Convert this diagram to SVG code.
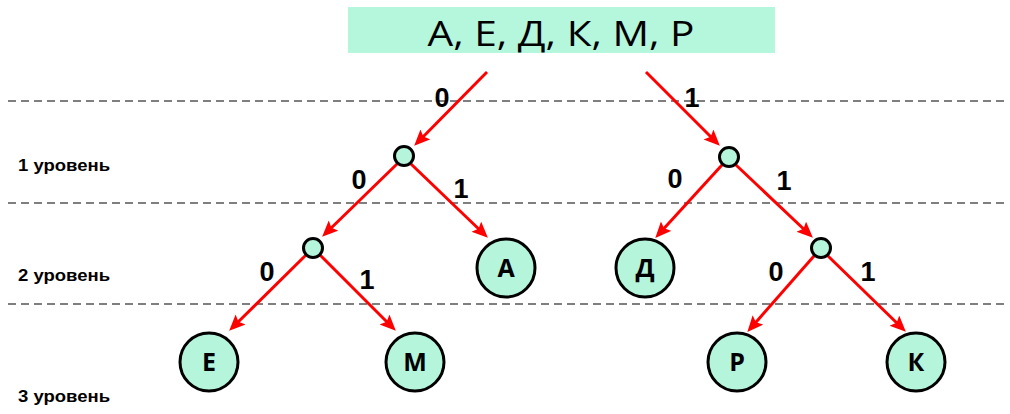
<svg xmlns="http://www.w3.org/2000/svg" width="1010" height="414" viewBox="0 0 1010 414">
<defs>
<style>
.dash{stroke:#555;stroke-width:1.6;stroke-dasharray:8,5;fill:none}
.lvl{font-family:"Liberation Sans",Arial,sans-serif;font-weight:bold;font-size:17px;fill:#000}
.edge{stroke:#ff0000;stroke-width:3;fill:none;marker-end:url(#arr)}
.small{fill:#b5f5dc;stroke:#000;stroke-width:3}
.leaf{fill:#b5f5dc;stroke:#000;stroke-width:3}
.nl{font-family:"Open Sans","Liberation Sans",sans-serif;font-weight:bold;font-size:25px;fill:#000;text-anchor:middle}
.el{font-family:"Liberation Sans",Arial,sans-serif;font-weight:bold;font-size:27px;fill:#000;text-anchor:middle}
</style>
<marker id="arr" markerUnits="userSpaceOnUse" markerWidth="18" markerHeight="16" refX="12" refY="7" orient="auto" viewBox="0 0 18 16">
<path d="M0,0 L16,7 L0,14 L3,7 z" fill="#ff0000"/>
</marker>
</defs>
<rect width="1010" height="414" fill="#fff"/>
<g id="guides">
<line class="dash" x1="8" y1="101" x2="1008" y2="101"/>
<line class="dash" x1="8" y1="203" x2="1008" y2="203"/>
<line class="dash" x1="8" y1="304" x2="1008" y2="304"/>
<text class="lvl" x="18" y="171" textLength="92" lengthAdjust="spacingAndGlyphs">1 уровень</text>
<text class="lvl" x="18" y="281" textLength="92" lengthAdjust="spacingAndGlyphs">2 уровень</text>
<text class="lvl" x="18" y="402" textLength="92" lengthAdjust="spacingAndGlyphs">3 уровень</text>
</g>
<g id="root">
<rect x="348" y="7" width="427" height="46" fill="#b4f7dc"/>
<text x="561" y="46" font-family="'Open Sans','Liberation Sans',sans-serif" font-size="34" text-anchor="middle" textLength="267" lengthAdjust="spacingAndGlyphs" fill="#000">А, Е, Д, К, М, Р</text>
</g>
<g id="connectors">
<line class="edge" x1="487" y1="72" x2="417" y2="143"/>
<line class="edge" x1="646" y1="72" x2="717" y2="143"/>
<line class="edge" x1="397" y1="164" x2="325" y2="234"/>
<line class="edge" x1="411" y1="164" x2="485" y2="235"/>
<line class="edge" x1="722" y1="165" x2="658" y2="235"/>
<line class="edge" x1="736" y1="165" x2="810" y2="235"/>
<line class="edge" x1="306" y1="255" x2="232" y2="328"/>
<line class="edge" x1="320" y1="255" x2="393" y2="328"/>
<line class="edge" x1="814" y1="256" x2="750" y2="329"/>
<line class="edge" x1="828" y1="256" x2="903" y2="329"/>
</g>
<g id="edge-labels">
<text class="el" x="442" y="107">0</text>
<text class="el" x="692" y="107">1</text>
<text class="el" x="359" y="189">0</text>
<text class="el" x="461" y="198">1</text>
<text class="el" x="675" y="188">0</text>
<text class="el" x="784" y="190">1</text>
<text class="el" x="267" y="281">0</text>
<text class="el" x="367" y="289">1</text>
<text class="el" x="776" y="281">0</text>
<text class="el" x="868" y="281">1</text>
</g>
<g id="n1l"><circle class="small" cx="404" cy="156" r="9.5"/></g>
<g id="n1r"><circle class="small" cx="729" cy="157" r="9.5"/></g>
<g id="n2l"><circle class="small" cx="313" cy="248" r="9.5"/></g>
<g id="n2r"><circle class="small" cx="821" cy="248" r="9.5"/></g>
<g id="leafA"><circle class="leaf" cx="506" cy="268" r="29"/><text class="nl" x="506" y="277">А</text></g>
<g id="leafD"><circle class="leaf" cx="645" cy="268" r="29"/><text class="nl" x="645" y="277">Д</text></g>
<g id="leafE"><circle class="leaf" cx="209" cy="362" r="29"/><text class="nl" x="209" y="371">Е</text></g>
<g id="leafM"><circle class="leaf" cx="415" cy="362" r="29"/><text class="nl" x="415" y="371">М</text></g>
<g id="leafR"><circle class="leaf" cx="737" cy="362" r="29"/><text class="nl" x="737" y="371">Р</text></g>
<g id="leafK"><circle class="leaf" cx="916" cy="362" r="29"/><text class="nl" x="916" y="371">К</text></g>
</svg>
